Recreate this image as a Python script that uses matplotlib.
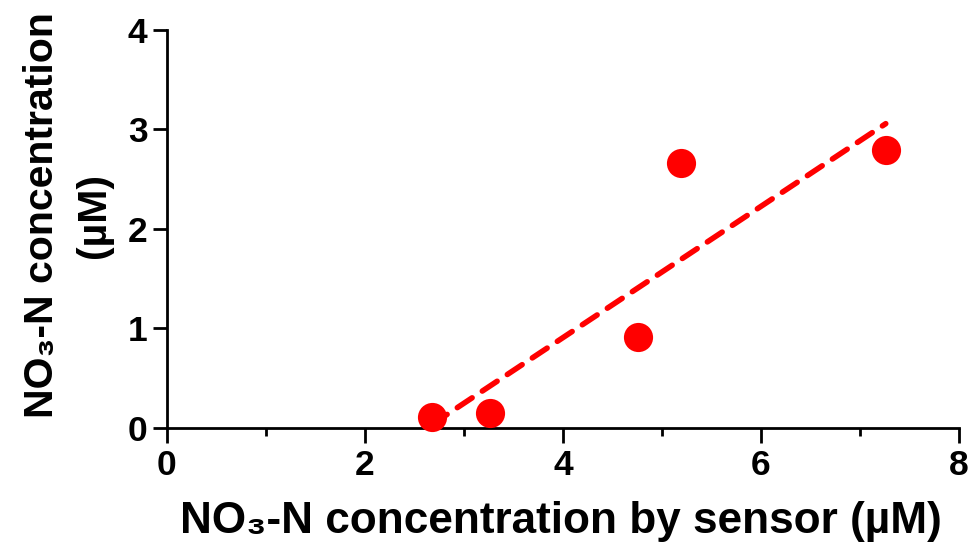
import numpy as np
import matplotlib
matplotlib.use("Agg")
import matplotlib.pyplot as plt
from matplotlib.ticker import MultipleLocator

# --- data ------------------------------------------------------------------
sensor_uM = [2.68, 3.26, 4.76, 5.19, 7.26]     # x: NO3-N by sensor
measured_uM = [0.11, 0.15, 0.91, 2.66, 2.79]   # y: NO3-N concentration

x_ticks = [0, 2, 4, 6, 8]
y_ticks = [0, 1, 2, 3, 4]

plt.rcParams['font.family'] = ['Liberation Sans', 'DejaVu Sans']
plt.rcParams['font.weight'] = 'bold'

fig = plt.figure(figsize=(9.69, 5.43), dpi=100)
ax = fig.add_axes([0.1723, 0.2118, 0.8174, 0.733])

# linear fit, drawn over the range of the data
slope, icpt = np.polyfit(sensor_uM, measured_uM, 1)
xf = np.array([min(sensor_uM), max(sensor_uM)])
ax.plot(xf, slope * xf + icpt, color='#ff0000', lw=4.0,
        dashes=(3.2, 2.2), dash_capstyle='round', zorder=2)

ax.plot(sensor_uM, measured_uM, 'o', color='#ff0000', ms=21,
        mec='none', zorder=3, clip_on=False)

ax.set_xlim(0, 8)
ax.set_ylim(0, 4)
ax.set_xticks(x_ticks)
ax.set_yticks(y_ticks)
ax.xaxis.set_minor_locator(MultipleLocator(1))

for s in ['top', 'right']:
    ax.spines[s].set_visible(False)
for s in ['left', 'bottom']:
    ax.spines[s].set_linewidth(2.0)

ax.tick_params(axis='both', which='major', width=2.0, labelsize=25.5, pad=4)
ax.tick_params(axis='x', which='major', length=11)
ax.tick_params(axis='x', which='minor', length=6, width=2.0)
ax.tick_params(axis='y', which='major', length=10)
for lab in ax.get_xticklabels() + ax.get_yticklabels():
    lab.set_fontweight('bold')

ax.set_xlabel('NO₃-N concentration by sensor (µM)', fontsize=31.8,
              fontweight='bold', va='center')
ax.xaxis.set_label_coords(0.497, -0.236)
ax.set_ylabel('NO₃-N concentration\n(µM)', fontsize=29.5,
              fontweight='bold', va='center', linespacing=1.45)
ax.yaxis.set_label_coords(-0.125, 0.535)

fig.savefig('out.png', dpi=100)
